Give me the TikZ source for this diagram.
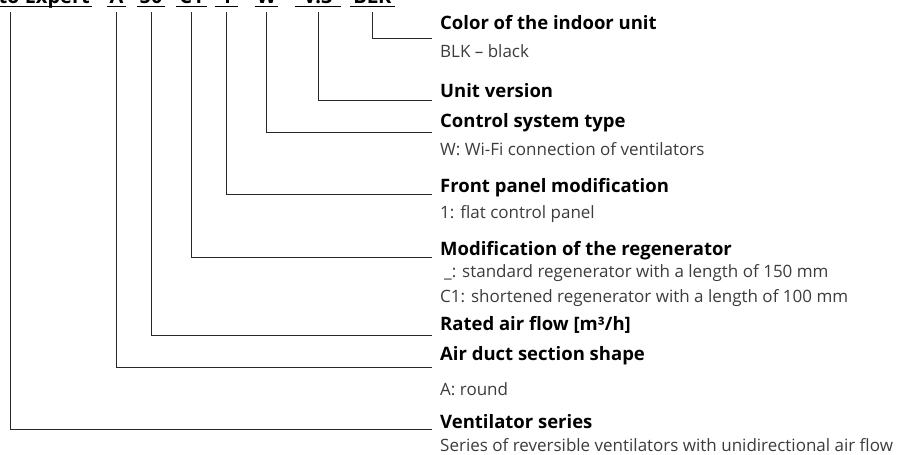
\documentclass[tikz,border=0pt]{standalone}
\usepackage{fontspec}
\setmainfont{Open Sans}
\usetikzlibrary{positioning,calc}
\definecolor{leadgray}{RGB}{40,40,40}
\definecolor{descgray}{RGB}{60,60,60}
\tikzset{
  code/.style ={font=\fontsize{20}{22}\selectfont\bfseries,anchor=base,
                inner xsep=2pt,inner ysep=0pt},
  head/.style ={font=\fontsize{18.5}{20}\selectfont\bfseries,anchor=base west,
                inner sep=0pt},
  desc/.style ={font=\fontsize{17}{19}\selectfont,text=descgray,
                anchor=base west,inner sep=0pt},
  uline/.style={line width=1.6pt},
  lead/.style ={line width=0.9pt,draw=leadgray}
}

\begin{document}
\begin{tikzpicture}[x=1pt,y=-1pt]
\useasboundingbox (0,0) rectangle (898,455);
\clip (0,0) rectangle (898,455);

% model code, top row
\node[code,anchor=base east] (ser) at (92,4) {Vento Expert};
\node[code,minimum width=17] (duc) at (116.5,4) {A};
\node[code,minimum width=28] (flo) at (151,4) {50};
\node[code,minimum width=31] (reg) at (191.5,4) {C1};
\node[code,minimum width=23] (pan) at (226.5,4) {1};
\node[code,minimum width=23] (ctl) at (266.5,4) {W};
\node[code,minimum width=45] (ver) at (318,4) {V.3};
\node[code,minimum width=45] (col) at (372.5,4) {BLK};
\foreach \n in {ser,duc,flo,reg,pan,ctl,ver,col}
  \draw[uline] ([yshift=-2.5pt]\n.base west) -- ([yshift=-2.5pt]\n.base east);

% legend texts
\def\tx{440}
\node[head] (hcol) at (\tx,30)  {Color of the indoor unit};
\node[desc] (dcol) at (\tx,57)  {BLK – black};
\node[head] (hver) at (\tx,97)  {Unit version};
\node[head] (hctl) at (\tx,127) {Control system type};
\node[desc] (dctl) at (\tx,155) {W: Wi-Fi connection of ventilators};
\node[head] (hpan) at (\tx,192) {Front panel modification};
\node[desc] (dpan) at (\tx,218) {1: flat control panel};
\node[head] (hreg) at (\tx,255) {Modification of the regenerator};
\node[desc] (dreg) at (\tx+4,277) {\_: standard regenerator with a length of 150 mm};
\node[desc] (dreg2) at (\tx,302) {C1: shortened regenerator with a length of 100 mm};
\node[head] (hflo) at (\tx,330) {Rated air flow [m³/h]};
\node[head] (hduc) at (\tx,360) {Air duct section shape};
\node[desc] (dduc) at (\tx,395) {A: round};
\node[head] (hser) at (\tx,428) {Ventilator series};
\node[desc] (dser) at (\tx,451) {Series of reversible ventilators with unidirectional air flow};

% leader ends
\coordinate (top)  at (0,12);
\coordinate (sser) at (10,12);
\coordinate (ecol) at (432,38);
\coordinate (ever) at (432,100);
\coordinate (ectl) at (432,132);
\coordinate (epan) at (432,194);
\coordinate (ereg) at (432,257);
\coordinate (eflo) at (432,335);
\coordinate (educ) at (432,367);
\coordinate (eser) at (432,429);

% leaders
\draw[lead] (col |- top) |- (ecol);
\draw[lead] (ver |- top) |- (ever);
\draw[lead] (ctl |- top) |- (ectl);
\draw[lead] (pan |- top) |- (epan);
\draw[lead] (reg |- top) |- (ereg);
\draw[lead] (flo |- top) |- (eflo);
\draw[lead] (duc |- top) |- (educ);
\draw[lead] (sser) |- (eser);

\end{tikzpicture}
\end{document}
